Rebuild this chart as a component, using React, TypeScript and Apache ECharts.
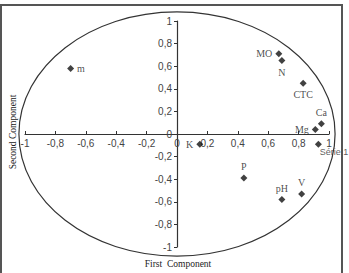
import React, { useEffect, useRef } from "react";
import * as echarts from "echarts";

const names = ["m", "MO", "N", "CTC", "Ca", "Mg", "Série 1", "K", "P", "pH", "V"];
const xVals = [-0.70, 0.67, 0.69, 0.83, 0.95, 0.91, 0.93, 0.15, 0.44, 0.69, 0.82];
const yVals = [0.58, 0.71, 0.65, 0.45, 0.09, 0.04, -0.09, -0.09, -0.39, -0.58, -0.53];
const labelPos = ["right", "left", "bottom", "bottom", "top", "left", "custom", "left", "top", "top", "top"];
const circleRadius = [1.04, 1.08];
const xTitle = "First  Component";
const yTitle = "Second Component";

const GRID = { left: 25, right: 20, top: 21, bottom: 26 };
const W = 349;
const H = 273;

const fmt = (v: number) => {
  const r = Math.round(v * 10) / 10;
  return String(r).replace(".", ",");
};

export default function App() {
  const ref = useRef<HTMLDivElement>(null);
  useEffect(() => {
    document.body.style.margin = "0";
    const chart = echarts.init(ref.current!, null, { renderer: "svg" });
    const gw = W - GRID.left - GRID.right;
    const gh = H - GRID.top - GRID.bottom;
    const data = names.map((n, i) => {
      const pos = labelPos[i];
      const item: any = { name: n, value: [xVals[i], yVals[i]] };
      if (pos === "custom") {
        item.label = {
          position: [5, 7],
          align: "left",
          verticalAlign: "top",
          fontFamily: "Liberation Sans",
          fontSize: 9,
          color: "#333",
        };
      } else {
        item.label = { position: pos, distance: 3 };
      }
      return item;
    });
    chart.setOption({
      animation: false,
      grid: GRID,
      xAxis: {
        type: "value",
        min: -1,
        max: 1,
        interval: 0.2,
        offset: -gh / 2,
        splitLine: { show: false },
        axisLine: { onZero: false, lineStyle: { color: "#333", width: 1.2 } },
        axisTick: { inside: true, length: 3, lineStyle: { color: "#333" } },
        axisLabel: {
          formatter: fmt,
          fontFamily: "Liberation Sans",
          fontSize: 10,
          color: "#444",
          margin: 4,
        },
      },
      yAxis: {
        type: "value",
        min: -1,
        max: 1,
        interval: 0.2,
        offset: -gw / 2,
        splitLine: { show: false },
        axisLine: { onZero: false, lineStyle: { color: "#333", width: 1.2 } },
        axisTick: { inside: false, length: 3, lineStyle: { color: "#333" } },
        axisLabel: {
          formatter: fmt,
          fontFamily: "Liberation Sans",
          fontSize: 10,
          color: "#444",
          margin: 5,
        },
      },
      graphic: [
        {
          type: "text",
          x: 178,
          y: 264,
          style: {
            text: xTitle,
            fontFamily: "Liberation Serif",
            fontSize: 9.5,
            fill: "#222",
            align: "center",
            verticalAlign: "middle",
          },
        },
        {
          type: "text",
          x: 13,
          y: 132,
          rotation: Math.PI / 2,
          style: {
            text: yTitle,
            fontFamily: "Liberation Serif",
            fontSize: 9.5,
            fill: "#222",
            align: "center",
            verticalAlign: "middle",
          },
        },
        {
          type: "rect",
          z: 100,
          shape: { x: 1, y: 5, width: 341, height: 290 },
          style: { fill: "none", stroke: "#555", lineWidth: 2 },
        },
      ],
      series: [
        {
          type: "custom",
          silent: true,
          data: [[0, 0]],
          renderItem: (params: any, api: any) => {
            const c = api.coord([0, 0]);
            const s = api.size(circleRadius);
            return {
              type: "ellipse",
              shape: { cx: c[0], cy: c[1], rx: s[0], ry: s[1] },
              style: { fill: "none", stroke: "#333", lineWidth: 1.2 },
            };
          },
          clip: false,
          z: 1,
        },
        {
          type: "scatter",
          symbol: "diamond",
          symbolSize: 7,
          itemStyle: { color: "#111" },
          label: {
            show: true,
            formatter: "{b}",
            fontFamily: "Liberation Serif",
            fontSize: 10,
            color: "#222",
          },
          data,
          z: 5,
        },
      ],
    });
    return () => chart.dispose();
  }, []);
  return <div ref={ref} style={{ width: W, height: H }} />;
}
